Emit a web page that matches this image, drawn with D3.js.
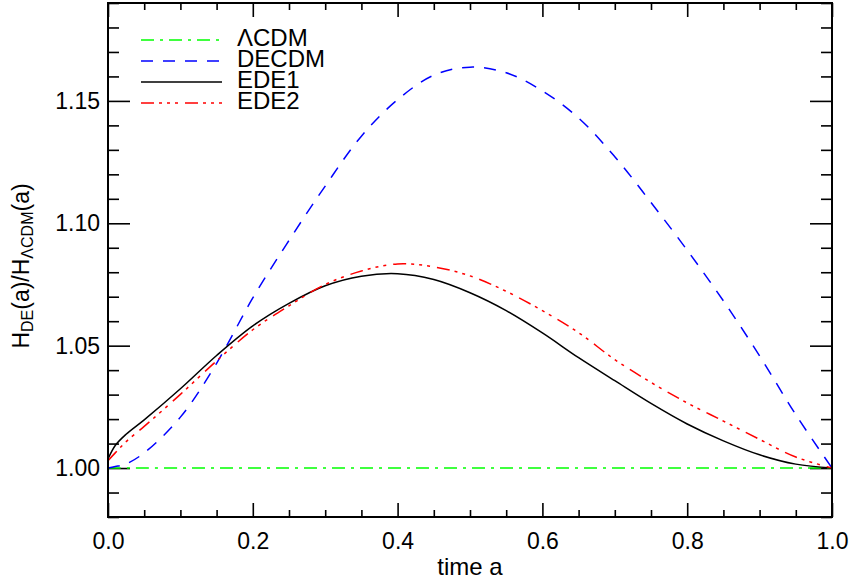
<!DOCTYPE html>
<html>
<head>
<meta charset="utf-8">
<script src="https://cdn.jsdelivr.net/npm/d3@7"></script>
<style>
  body { margin: 0; background: #fff; }
  svg { display: block; font-family: "Liberation Sans", Arial, Helvetica, sans-serif; }
  .tick text { font-size: 23px; fill: #000; }
  .tick line { stroke: #000; stroke-width: 1.6; }
</style>
</head>
<body>
<svg id="chart"></svg>
<script>
var aGrid = [0, 0.01, 0.025, 0.05, 0.1, 0.15, 0.2, 0.25, 0.3, 0.35, 0.4, 0.45, 0.5,
             0.55, 0.6, 0.65, 0.7, 0.75, 0.8, 0.85, 0.9, 0.95, 1.0];

var lcdm  = [1, 1, 1, 1, 1, 1, 1, 1, 1, 1, 1, 1, 1, 1, 1, 1, 1, 1, 1, 1, 1, 1, 1];
var decdm = [1.0, 1.0006, 1.0017, 1.0062, 1.0208, 1.0428, 1.0695, 1.0930, 1.1152, 1.1356,
             1.1505, 1.1605, 1.1638, 1.1615, 1.1541, 1.1430, 1.1272, 1.1085, 1.0890,
             1.0683, 1.0458, 1.0218, 1.0];
var ede1  = [1.0037, 1.0092, 1.0138, 1.0197, 1.0324, 1.0460, 1.0581, 1.0673, 1.0745, 1.0784,
             1.0794, 1.0770, 1.0716, 1.0643, 1.0552, 1.0451, 1.0357, 1.0264, 1.0180,
             1.0111, 1.0054, 1.0016, 1.0];
var ede2  = [1.0030, 1.0062, 1.0108, 1.0170, 1.0301, 1.0438, 1.0565, 1.0663, 1.0750, 1.0805,
             1.0834, 1.0822, 1.0785, 1.0722, 1.0643, 1.0553, 1.0443, 1.0350, 1.0266,
             1.0192, 1.0117, 1.0045, 1.0];

var seriesNames = ["\u039BCDM", "DECDM", "EDE1", "EDE2"];
var seriesData = [lcdm, decdm, ede1, ede2];
var seriesColors = ["#00ff00", "#0000ff", "#000000", "#ff0000"];
var seriesDash = ["13,6,3,6", "12,10", null, "13,5,3,5,3,5,3,7"];

var xTicks = [0, 0.2, 0.4, 0.6, 0.8, 1.0];
var yTicks = [1.00, 1.05, 1.10, 1.15];

var width = 852, height = 582;
var margin = {top: 3, right: 20, bottom: 65, left: 108};
var w = width - margin.left - margin.right,
    h = height - margin.top - margin.bottom;

var svg = d3.select("#chart").attr("width", width).attr("height", height);
var g = svg.append("g").attr("transform", "translate(" + margin.left + "," + margin.top + ")");

var x = d3.scaleLinear().domain([0, 1]).range([0, w]);
var y = d3.scaleLinear().domain([0.98, 1.19]).range([h, 0]);

var xMinor = d3.range(0, 1.0001, 0.05).filter(function(v){ return Math.abs(v*5 - Math.round(v*5)) > 1e-6; });
var yMinor = d3.range(0.98, 1.19001, 0.01).filter(function(v){ return Math.abs(v*20 - Math.round(v*20)) > 1e-6; });

// axes, ticks pointing inward on all four sides
var addAxis = function(axis, tr){
  var a = g.append("g").attr("transform", tr).call(axis);
  a.select(".domain").remove();
  return a;
};

addAxis(d3.axisBottom(x).tickValues(xTicks).tickSize(-14).tickPadding(16).tickFormat(d3.format(".1f")),
        "translate(0," + h + ")");
addAxis(d3.axisBottom(x).tickValues(xMinor).tickSize(-7).tickFormat(""), "translate(0," + h + ")");
addAxis(d3.axisTop(x).tickValues(xTicks).tickSize(-14).tickFormat(""), "translate(0,0)");
addAxis(d3.axisTop(x).tickValues(xMinor).tickSize(-7).tickFormat(""), "translate(0,0)");

addAxis(d3.axisLeft(y).tickValues(yTicks).tickSize(-22).tickPadding(8).tickFormat(d3.format(".2f")),
        "translate(0,0)");
addAxis(d3.axisLeft(y).tickValues(yMinor).tickSize(-11).tickFormat(""), "translate(0,0)");
addAxis(d3.axisRight(y).tickValues(yTicks).tickSize(-22).tickFormat(""), "translate(" + w + ",0)");
addAxis(d3.axisRight(y).tickValues(yMinor).tickSize(-11).tickFormat(""), "translate(" + w + ",0)");

g.selectAll(".tick text").attr("fill", "#000");

// curves
var line = d3.line()
  .x(function(d){ return x(d[0]); })
  .y(function(d){ return y(d[1]); })
  .curve(d3.curveCatmullRom.alpha(0.5));

seriesData.forEach(function(vals, i){
  var pts = aGrid.map(function(a, j){ return [a, vals[j]]; });
  g.append("path")
    .datum(pts)
    .attr("d", line)
    .attr("fill", "none")
    .attr("stroke", seriesColors[i])
    .attr("stroke-width", 1.5)
    .attr("stroke-dasharray", seriesDash[i]);
});

// frame
g.append("rect")
  .attr("width", w).attr("height", h)
  .attr("fill", "none").attr("stroke", "#000").attr("stroke-width", 2);

// legend
var legend = g.append("g").attr("transform", "translate(33,37)");
seriesNames.forEach(function(name, i){
  var row = legend.append("g").attr("transform", "translate(0," + (i * 21) + ")");
  row.append("line")
    .attr("x1", 0).attr("x2", 81)
    .attr("stroke", seriesColors[i])
    .attr("stroke-width", 1.5)
    .attr("stroke-dasharray", seriesDash[i]);
  row.append("text")
    .attr("x", 96).attr("y", 6)
    .style("font-size", "24px")
    .text(name);
});

// axis titles
svg.append("text")
  .attr("x", margin.left + w / 2).attr("y", 575)
  .attr("text-anchor", "middle")
  .style("font-size", "24px")
  .text("time a");

var yl = svg.append("text")
  .attr("transform", "translate(29," + 266 + ") rotate(-90)")
  .attr("text-anchor", "middle")
  .style("font-size", "23px");
yl.append("tspan").text("H");
yl.append("tspan").attr("dy", 4).style("font-size", "16px").text("DE");
yl.append("tspan").attr("dy", -4).text("(a)/H");
yl.append("tspan").attr("dy", 4).style("font-size", "16px").text("\u039BCDM");
yl.append("tspan").attr("dy", -4).text("(a)");
</script>
</body>
</html>
